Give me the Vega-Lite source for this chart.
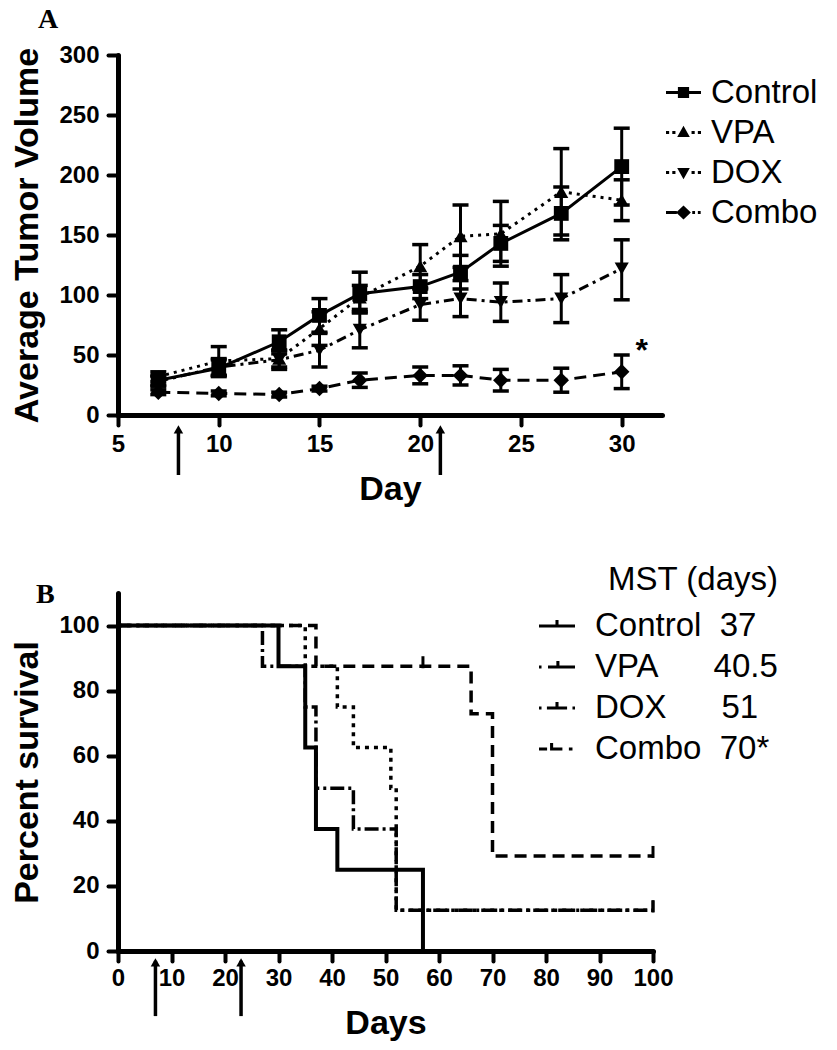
{
  "$schema": "https://vega.github.io/schema/vega-lite/v6.json",
  "background": "white",
  "padding": {"left": 10, "top": 6, "right": 2, "bottom": 5},
  "config": {
    "view": {"stroke": null},
    "font": "Liberation Sans",
    "axis": {
      "domainColor": "black", "domainWidth": 5, "domainCap": "round",
      "tickColor": "black", "tickWidth": 4, "tickSize": 10, "tickCap": "round",
      "labelFont": "Liberation Sans", "labelFontWeight": "bold", "labelFontSize": 24, "labelColor": "black", "labelPadding": 9,
      "labelFlush": false, "labelOverlap": false,
      "titleFont": "Liberation Sans", "titleFontWeight": "bold", "titleFontSize": 34, "titleColor": "black",
      "grid": false
    },
    "legend": {
      "labelFont": "Liberation Sans", "labelFontSize": 33, "labelColor": "black", "labelLimit": 400,
      "titleFont": "Liberation Sans", "titleFontWeight": "normal", "titleFontSize": 33, "titleColor": "black", "titleLimit": 400
    }
  },
  "datasets": {
    "tumor": [
      {"group": "Control", "day": 7, "mean": 29, "lo": 25, "hi": 33},
      {"group": "Control", "day": 10, "mean": 39, "lo": 32, "hi": 46},
      {"group": "Control", "day": 13, "mean": 61, "lo": 51, "hi": 71},
      {"group": "Control", "day": 15, "mean": 83, "lo": 69, "hi": 97},
      {"group": "Control", "day": 17, "mean": 101, "lo": 85, "hi": 119},
      {"group": "Control", "day": 20, "mean": 107, "lo": 97, "hi": 117},
      {"group": "Control", "day": 22, "mean": 119, "lo": 105, "hi": 133},
      {"group": "Control", "day": 24, "mean": 143, "lo": 128, "hi": 158},
      {"group": "Control", "day": 27, "mean": 168, "lo": 146, "hi": 190},
      {"group": "Control", "day": 30, "mean": 207, "lo": 175, "hi": 239},
      {"group": "VPA", "day": 7, "mean": 32, "lo": 28, "hi": 36},
      {"group": "VPA", "day": 10, "mean": 45, "lo": 33, "hi": 57},
      {"group": "VPA", "day": 13, "mean": 47, "lo": 40, "hi": 54},
      {"group": "VPA", "day": 15, "mean": 72, "lo": 58, "hi": 86},
      {"group": "VPA", "day": 17, "mean": 98, "lo": 88, "hi": 108},
      {"group": "VPA", "day": 20, "mean": 124, "lo": 106, "hi": 142},
      {"group": "VPA", "day": 22, "mean": 149, "lo": 123, "hi": 175},
      {"group": "VPA", "day": 24, "mean": 151, "lo": 124, "hi": 178},
      {"group": "VPA", "day": 27, "mean": 186, "lo": 150, "hi": 222},
      {"group": "VPA", "day": 30, "mean": 179, "lo": 162, "hi": 196},
      {"group": "DOX", "day": 7, "mean": 28, "lo": 24, "hi": 32},
      {"group": "DOX", "day": 10, "mean": 40, "lo": 33, "hi": 47},
      {"group": "DOX", "day": 13, "mean": 46, "lo": 38, "hi": 54},
      {"group": "DOX", "day": 15, "mean": 54, "lo": 40, "hi": 68},
      {"group": "DOX", "day": 17, "mean": 71, "lo": 56, "hi": 86},
      {"group": "DOX", "day": 20, "mean": 92, "lo": 79, "hi": 105},
      {"group": "DOX", "day": 22, "mean": 97, "lo": 82, "hi": 112},
      {"group": "DOX", "day": 24, "mean": 94, "lo": 78, "hi": 110},
      {"group": "DOX", "day": 27, "mean": 97, "lo": 77, "hi": 117},
      {"group": "DOX", "day": 30, "mean": 122, "lo": 96, "hi": 146},
      {"group": "Combo", "day": 7, "mean": 19, "lo": 17, "hi": 21},
      {"group": "Combo", "day": 10, "mean": 18, "lo": 16, "hi": 20},
      {"group": "Combo", "day": 13, "mean": 17, "lo": 15, "hi": 19},
      {"group": "Combo", "day": 15, "mean": 22, "lo": 20, "hi": 24},
      {"group": "Combo", "day": 17, "mean": 29, "lo": 23, "hi": 35},
      {"group": "Combo", "day": 20, "mean": 33, "lo": 26, "hi": 40},
      {"group": "Combo", "day": 22, "mean": 33, "lo": 25, "hi": 41},
      {"group": "Combo", "day": 24, "mean": 29, "lo": 20, "hi": 38},
      {"group": "Combo", "day": 27, "mean": 29, "lo": 19, "hi": 39},
      {"group": "Combo", "day": 30, "mean": 36, "lo": 22, "hi": 50}
    ],
    "surv": [
      {"group": "Control", "day": 0, "pct": 100},
      {"group": "Control", "day": 30, "pct": 87.5},
      {"group": "Control", "day": 35, "pct": 62.5},
      {"group": "Control", "day": 37, "pct": 37.5},
      {"group": "Control", "day": 41, "pct": 25},
      {"group": "Control", "day": 57, "pct": 0},
      {"group": "VPA", "day": 0, "pct": 100},
      {"group": "VPA", "day": 27, "pct": 87.5},
      {"group": "VPA", "day": 35, "pct": 75},
      {"group": "VPA", "day": 37, "pct": 50},
      {"group": "VPA", "day": 44, "pct": 37.5},
      {"group": "VPA", "day": 52, "pct": 12.5},
      {"group": "VPA", "day": 100, "pct": 12.5},
      {"group": "DOX", "day": 0, "pct": 100},
      {"group": "DOX", "day": 35, "pct": 87.5},
      {"group": "DOX", "day": 41, "pct": 75},
      {"group": "DOX", "day": 44, "pct": 62.5},
      {"group": "DOX", "day": 51, "pct": 50},
      {"group": "DOX", "day": 52, "pct": 12.5},
      {"group": "DOX", "day": 100, "pct": 12.5},
      {"group": "Combo", "day": 0, "pct": 100},
      {"group": "Combo", "day": 37, "pct": 87.5},
      {"group": "Combo", "day": 66, "pct": 72.9},
      {"group": "Combo", "day": 70, "pct": 29.2},
      {"group": "Combo", "day": 100, "pct": 29.2}
    ],
    "censor": [
      {"group": "Combo", "day": 57, "pct": 87.5},
      {"group": "Combo", "day": 100, "pct": 29.2},
      {"group": "VPA", "day": 100, "pct": 12.5},
      {"group": "DOX", "day": 100, "pct": 12.5}
    ],
    "arrowsA": [{"day": 8}, {"day": 21}],
    "arrowsB": [{"day": 7}, {"day": 23}]
  },
  "spacing": 58,
  "resolve": {"scale": {"shape": "independent"}, "legend": {"shape": "independent"}},
  "vconcat": [
    {
      "width": 544,
      "height": 360,
      "title": {"text": "A", "anchor": "start", "frame": "group", "font": "Liberation Serif", "fontSize": 28, "fontWeight": "bold", "color": "black", "dx": -80, "offset": 9},
      "encoding": {
        "x": {"field": "day", "type": "quantitative", "scale": {"domain": [5, 32], "nice": false, "zero": false},
              "axis": {"values": [5, 10, 15, 20, 25, 30], "title": "Day", "titlePadding": 16, "labelPadding": 7}}
      },
      "layer": [
        {
          "data": {"name": "tumor"},
          "transform": [{"filter": "datum.group == 'Control'"}],
          "mark": {"type": "line", "strokeWidth": 3, "color": "black"},
          "encoding": {
            "y": {"field": "mean", "type": "quantitative", "scale": {"domain": [0, 300], "nice": false},
                  "axis": {"values": [0, 50, 100, 150, 200, 250, 300], "title": "Average Tumor Volume", "titlePadding": 14}}
          }
        },
        {
          "data": {"name": "tumor"},
          "transform": [{"filter": "datum.group == 'VPA'"}],
          "mark": {"type": "line", "strokeWidth": 3, "color": "black", "strokeDash": [3, 5]},
          "encoding": {"y": {"field": "mean", "type": "quantitative"}}
        },
        {
          "data": {"name": "tumor"},
          "transform": [{"filter": "datum.group == 'DOX'"}],
          "mark": {"type": "line", "strokeWidth": 3, "color": "black", "strokeDash": [10, 5, 3, 5]},
          "encoding": {"y": {"field": "mean", "type": "quantitative"}}
        },
        {
          "data": {"name": "tumor"},
          "transform": [{"filter": "datum.group == 'Combo'"}],
          "mark": {"type": "line", "strokeWidth": 3, "color": "black", "strokeDash": [12, 7]},
          "encoding": {"y": {"field": "mean", "type": "quantitative"}}
        },
        {
          "data": {"name": "tumor"},
          "mark": {"type": "rule", "strokeWidth": 3, "color": "black", "opacity": 1},
          "encoding": {
            "y": {"field": "lo", "type": "quantitative"},
            "y2": {"field": "hi"}
          }
        },
        {
          "data": {"name": "tumor"},
          "mark": {"type": "tick", "orient": "horizontal", "size": 16, "thickness": 3.5, "color": "black", "opacity": 1},
          "encoding": {"y": {"field": "lo", "type": "quantitative"}}
        },
        {
          "data": {"name": "tumor"},
          "mark": {"type": "tick", "orient": "horizontal", "size": 16, "thickness": 3.5, "color": "black", "opacity": 1},
          "encoding": {"y": {"field": "hi", "type": "quantitative"}}
        },
        {
          "data": {"name": "tumor"},
          "transform": [{"filter": "datum.group == 'Control'"}],
          "mark": {"type": "point", "shape": "square", "filled": true, "size": 220, "color": "black", "opacity": 1},
          "encoding": {"y": {"field": "mean", "type": "quantitative"}}
        },
        {
          "data": {"name": "tumor"},
          "transform": [{"filter": "datum.group == 'VPA'"}],
          "mark": {"type": "point", "shape": "triangle-up", "filled": true, "size": 200, "color": "black", "opacity": 1},
          "encoding": {"y": {"field": "mean", "type": "quantitative"}}
        },
        {
          "data": {"name": "tumor"},
          "transform": [{"filter": "datum.group == 'DOX'"}],
          "mark": {"type": "point", "shape": "triangle-down", "filled": true, "size": 200, "color": "black", "opacity": 1},
          "encoding": {"y": {"field": "mean", "type": "quantitative"}}
        },
        {
          "data": {"name": "tumor"},
          "transform": [{"filter": "datum.group == 'Combo'"}],
          "mark": {"type": "point", "shape": "diamond", "filled": true, "size": 240, "color": "black", "opacity": 1},
          "encoding": {"y": {"field": "mean", "type": "quantitative"}}
        },
        {
          "data": {"name": "tumor"},
          "transform": [{"filter": "datum.day < 0"}],
          "mark": {"type": "point", "filled": true, "size": 1225, "color": "black"},
          "encoding": {
            "y": {"field": "mean", "type": "quantitative"},
            "shape": {"field": "group", "type": "nominal",
                      "scale": {"domain": ["Control", "VPA", "DOX", "Combo"],
                                "range": [
                                  "M-1,-0.09H1V0.09H-1Z M-0.32,-0.32H0.32V0.32H-0.32Z",
                                  "M-1,-0.09H-0.82V0.09H-1Z M-0.64,-0.09H-0.46V0.09H-0.64Z M0.46,-0.09H0.64V0.09H0.46Z M0.82,-0.09H1V0.09H0.82Z M0,-0.38L0.36,0.26H-0.36Z",
                                  "M-1,-0.09H-0.82V0.09H-1Z M-0.64,-0.09H-0.46V0.09H-0.64Z M0.46,-0.09H0.64V0.09H0.46Z M0.82,-0.09H1V0.09H0.82Z M0,0.38L-0.36,-0.26H0.36Z",
                                  "M-1,-0.09H-0.38V0.09H-1Z M0.5,-0.09H0.66V0.09H0.5Z M0.82,-0.09H0.98V0.09H0.82Z M0,-0.4L0.42,0L0,0.4L-0.42,0Z"
                                ]},
                      "legend": {"orient": "none", "legendX": 547, "legendY": 19, "title": null,
                                 "symbolSize": 1225, "labelOffset": 9, "rowPadding": 4, "padding": 0,
                                 "symbolFillColor": "black", "symbolOpacity": 1}}
          }
        },
        {
          "data": {"name": "tumor"},
          "transform": [{"filter": "datum.group == 'Combo' && datum.day == 30"}],
          "mark": {"type": "text", "text": "*", "fontSize": 32, "fontWeight": "bold", "color": "black", "dx": 20, "dy": -4, "baseline": "middle"},
          "encoding": {"y": {"field": "hi", "type": "quantitative"}}
        },
        {
          "data": {"name": "arrowsA"},
          "mark": {"type": "rule", "strokeWidth": 3.5, "color": "black"},
          "encoding": {"y": {"datum": -12}, "y2": {"datum": -50}}
        },
        {
          "data": {"name": "arrowsA"},
          "mark": {"type": "point", "shape": "triangle-up", "filled": true, "size": 90, "color": "black", "opacity": 1},
          "encoding": {"y": {"datum": -12}}
        }
      ]
    },
    {
      "width": 535,
      "height": 358,
      "title": {"text": "B", "anchor": "start", "frame": "group", "font": "Liberation Serif", "fontSize": 28, "fontWeight": "bold", "color": "black", "dx": -82, "offset": -45},
      "encoding": {
        "x": {"field": "day", "type": "quantitative", "scale": {"domain": [0, 100], "nice": false},
              "axis": {"values": [0, 10, 20, 30, 40, 50, 60, 70, 80, 90, 100], "title": "Days", "titlePadding": 16, "labelPadding": 5}}
      },
      "layer": [
        {
          "data": {"name": "surv"},
          "transform": [{"filter": "datum.group == 'Control'"}],
          "mark": {"type": "line", "interpolate": "step-after", "strokeWidth": 4, "color": "black"},
          "encoding": {
            "y": {"field": "pct", "type": "quantitative", "scale": {"domain": [0, 110], "nice": false},
                  "axis": {"values": [0, 20, 40, 60, 80, 100], "title": "Percent survival", "titlePadding": 14}}
          }
        },
        {
          "data": {"name": "surv"},
          "transform": [{"filter": "datum.group == 'VPA'"}],
          "mark": {"type": "line", "interpolate": "step-after", "strokeWidth": 3.5, "color": "black", "strokeDash": [14, 4, 3, 4]},
          "encoding": {"y": {"field": "pct", "type": "quantitative"}}
        },
        {
          "data": {"name": "surv"},
          "transform": [{"filter": "datum.group == 'DOX'"}],
          "mark": {"type": "line", "interpolate": "step-after", "strokeWidth": 3.5, "color": "black", "strokeDash": [4, 5]},
          "encoding": {"y": {"field": "pct", "type": "quantitative"}}
        },
        {
          "data": {"name": "surv"},
          "transform": [{"filter": "datum.group == 'Combo'"}],
          "mark": {"type": "line", "interpolate": "step-after", "strokeWidth": 3.5, "color": "black", "strokeDash": [12, 7]},
          "encoding": {"y": {"field": "pct", "type": "quantitative"}}
        },
        {
          "data": {"name": "censor"},
          "mark": {"type": "tick", "orient": "vertical", "size": 12, "thickness": 3, "color": "black", "opacity": 1, "yOffset": -4},
          "encoding": {"y": {"field": "pct", "type": "quantitative"}}
        },
        {
          "data": {"name": "surv"},
          "transform": [{"filter": "datum.day < 0"}],
          "mark": {"type": "point", "filled": true, "size": 1296, "color": "black"},
          "encoding": {
            "y": {"field": "pct", "type": "quantitative"},
            "shape": {"field": "group", "type": "nominal",
                      "scale": {"domain": ["Combo", "Control", "DOX", "VPA"],
                                "range": [
                                  "M-1,-0.085H-0.55V0.085H-1Z M-0.385,-0.34H-0.215V0.085H-0.385Z M-0.215,-0.085H0.3V0.085H-0.215Z M0.66,-0.085H0.86V0.085H0.66Z",
                                  "M-1,-0.085H1V0.085H-1Z M-0.085,-0.34H0.085V0H-0.085Z",
                                  "M-1,-0.085H-0.86V0.085H-1Z M-0.56,-0.085H0.56V0.085H-0.56Z M0.86,-0.085H1V0.085H0.86Z M-0.085,-0.34H0.085V0H-0.085Z",
                                  "M-1,-0.085H-0.86V0.085H-1Z M-0.5,-0.085H1V0.085H-0.5Z M-0.035,-0.34H0.135V0H-0.035Z"
                                ]},
                      "legend": {"orient": "none", "legendX": 420, "legendY": -29,
                                 "values": ["Control", "VPA", "DOX", "Combo"],
                                 "title": "MST (days)",
                                 "titleAnchor": "end",
                                 "titlePadding": 10,
                                 "symbolSize": 1296, "labelOffset": 19, "rowPadding": 5, "padding": 0,
                                 "labelFontSize": 33, "labelLimit": 400,
                                 "symbolFillColor": "black", "symbolOpacity": 1,
                                 "labelExpr": "datum.label == 'Control' ? 'Control\u00a0\u00a037' : datum.label == 'VPA' ? 'VPA\u00a0\u00a0\u00a0\u00a0\u00a0\u00a040.5' : datum.label == 'DOX' ? 'DOX\u00a0\u00a0\u00a0\u00a0\u00a0\u00a051' : 'Combo\u00a0\u00a070*'"}}
          }
        },
        {
          "data": {"name": "arrowsB"},
          "mark": {"type": "rule", "strokeWidth": 3.5, "color": "black"},
          "encoding": {"y": {"datum": -3}, "y2": {"datum": -20}}
        },
        {
          "data": {"name": "arrowsB"},
          "mark": {"type": "point", "shape": "triangle-up", "filled": true, "size": 90, "color": "black", "opacity": 1},
          "encoding": {"y": {"datum": -3.5}}
        }
      ]
    }
  ]
}
